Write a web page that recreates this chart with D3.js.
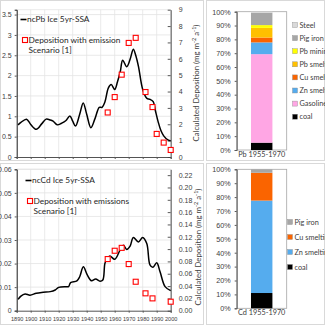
<!DOCTYPE html>
<html>
<head>
<meta charset="utf-8">
<script src="https://cdn.jsdelivr.net/npm/d3@7"></script>
<style>
  body { margin: 0; background: #fff; }
  svg { display: block; font-family: Lato, "Open Sans", sans-serif; }
</style>
</head>
<body>
<div id="chart"></div>
<script>
// ice core series (5yr smoothed) - left axis
const pbIceYears = [1891, 1893, 1897, 1900, 1904, 1908, 1911, 1914, 1916, 1919, 1922, 1925, 1928, 1930, 1932, 1935, 1937.5, 1940, 1943, 1946, 1949, 1951, 1953, 1955.5, 1957.5, 1960, 1962, 1964, 1965.7, 1968.6, 1971, 1973.3, 1975, 1977, 1980, 1983, 1985, 1987.5, 1989, 1991, 1993, 1995, 1998, 2000];
const pbIce = [0.79, 0.85, 0.93, 0.8, 0.68, 0.82, 0.93, 0.91, 0.88, 0.79, 0.83, 0.89, 1.01, 0.88, 0.76, 1.05, 1.33, 1.05, 0.72, 0.95, 1.22, 1.22, 1.35, 1.7, 1.78, 1.66, 1.85, 2.1, 2.38, 2.22, 2.4, 2.65, 2.5, 2.22, 1.66, 1.44, 1.42, 1.36, 1.15, 0.87, 0.65, 0.52, 0.42, 0.4];

const cdIceYears = [1891, 1893, 1896, 1899.5, 1904, 1909, 1914, 1917.5, 1920, 1925, 1927, 1928.5, 1933, 1935, 1937.6, 1940.5, 1943.4, 1946.4, 1949.5, 1951.5, 1953, 1954.6, 1956.6, 1960, 1963.8, 1966.2, 1968.6, 1971, 1973.3, 1976.9, 1980, 1982.9, 1985.2, 1987.2, 1990, 1992.4, 1996, 2000];
const cdIce = [0.0048, 0.0062, 0.0071, 0.0066, 0.0074, 0.0078, 0.0081, 0.0088, 0.0099, 0.0102, 0.0102, 0.0119, 0.0127, 0.0144, 0.0186, 0.0151, 0.0127, 0.0134, 0.0125, 0.013, 0.02, 0.0222, 0.0232, 0.0218, 0.0257, 0.0278, 0.026, 0.0274, 0.0311, 0.0292, 0.0311, 0.0285, 0.0194, 0.0184, 0.0203, 0.0165, 0.0102, 0.0085];

// emission scenario deposition - right axis
const pbScenYears = [1955, 1960, 1965, 1970, 1975, 1982, 1987, 1990, 1995, 2000];
const pbScen = [2.72, 3.66, 5.03, 6.97, 7.28, 3.97, 3.05, 1.41, 0.88, 0.43];
const cdScenYears = [1955, 1960, 1965, 1970, 1975, 1982, 1987, 2000];
const cdScen = [0.0838, 0.0973, 0.102, 0.0757, 0.047, 0.0282, 0.02, 0.0146];

const xTicks = [1890, 1900, 1910, 1920, 1930, 1940, 1950, 1960, 1970, 1980, 1990, 2000];
const pbLeftTicks = [0, 0.5, 1, 1.5, 2, 2.5, 3, 3.5];
const pbRightTicks = [0, 1, 2, 3, 4, 5, 6, 7, 8, 9];
const cdLeftTicks = [0, 0.01, 0.02, 0.03, 0.04, 0.05, 0.06];
const cdRightTicks = [0, 0.02, 0.04, 0.06, 0.08, 0.10, 0.12, 0.14, 0.16, 0.18, 0.20, 0.22];

// source shares 1955-1970 (%)
const pbSources = ["coal", "Gasoline", "Zn smelting", "Cu smelting", "Pb smelting", "Pb mining", "Pig iron", "Steel"];
const pbShares = [5.3, 64, 8.5, 3.5, 7, 2, 9, 0.7];
const cdSources = ["coal", "Zn smelting", "Cu smelting", "Pig iron"];
const cdShares = [11, 66.5, 20, 2.5];
const pctTicks = [0, 10, 20, 30, 40, 50, 60, 70, 80, 90, 100];

const srcColor = {
  "coal": "#000000", "Gasoline": "#ffa6e4", "Zn smelting": "#55acee",
  "Cu smelting": "#fa6400", "Pb smelting": "#ffc000", "Pb mining": "#ffff00",
  "Pig iron": "#a6a6a6", "Steel": "#d9d9d9"
};

const svg = d3.select("#chart").append("svg")
  .attr("width", 325).attr("height", 325);

// chart area frames
const frames = [[0.5, 0.5, 203, 160], [0.5, 163.5, 203, 161], [206.5, 0.5, 118, 160], [206.5, 163.5, 118, 161]];
svg.selectAll("rect.frame").data(frames).enter().append("rect")
  .attr("class", "frame")
  .attr("x", d => d[0]).attr("y", d => d[1]).attr("width", d => d[2]).attr("height", d => d[3])
  .attr("fill", "none").attr("stroke", "#d9d9d9");

function lineChart(cfg) {
  const x = d3.scaleLinear().domain([1890, 2000]).range([16.7, 170.7]);
  const yL = d3.scaleLinear().domain([0, cfg.leftMax]).range([cfg.bottom, cfg.top]);
  const yR = d3.scaleLinear().domain([0, cfg.rightMax]).range([cfg.bottom, cfg.top]);
  const g = svg.append("g");

  // gridlines
  g.selectAll(".vg").data(xTicks.slice(1)).enter().append("line")
    .attr("x1", d => x(d)).attr("x2", d => x(d))
    .attr("y1", cfg.top).attr("y2", cfg.bottom)
    .attr("stroke", "#e3e3e3").attr("stroke-width", 0.8);
  g.selectAll(".hg").data(cfg.leftTicks.slice(1)).enter().append("line")
    .attr("x1", x(1890)).attr("x2", x(2000))
    .attr("y1", d => yL(d)).attr("y2", d => yL(d))
    .attr("stroke", "#e3e3e3").attr("stroke-width", 0.8);
  g.append("line").attr("x1", x(1890)).attr("x2", x(2000))
    .attr("y1", cfg.top).attr("y2", cfg.top)
    .attr("stroke", "#e3e3e3").attr("stroke-width", 0.8);

  // left axis
  const la = g.append("g").attr("transform", `translate(${x(1890)},0)`)
    .call(d3.axisLeft(yL).tickValues(cfg.leftTicks).tickSize(2).tickFormat(cfg.leftFmt));
  // right axis
  const ra = g.append("g").attr("transform", `translate(${x(2000)},0)`)
    .call(d3.axisRight(yR).tickValues(cfg.rightTicks).tickSizeInner(-3).tickSizeOuter(0).tickPadding(8).tickFormat(cfg.rightFmt));
  // bottom axis
  const ba = g.append("g").attr("transform", `translate(0,${cfg.bottom})`)
    .call(d3.axisBottom(x).tickValues(xTicks).tickSize(2).tickFormat(cfg.showX ? d3.format("d") : ""));
  [la, ra, ba].forEach(a => {
    a.select(".domain").attr("stroke", "#404040").attr("stroke-width", 0.9);
    a.selectAll(".tick line").attr("stroke", "#595959");
    a.selectAll("text").attr("fill", "#404040").attr("font-size", 7);
  });
  la.select(".domain").attr("stroke", "#000");
  ba.selectAll("text").attr("font-size", 5.6).attr("dy", "0.9em");

  // ice core line
  const pts = cfg.iceYears.map((yr, i) => [yr, cfg.ice[i]]);
  g.append("path").datum(pts)
    .attr("fill", "none").attr("stroke", "#000").attr("stroke-width", 1.5)
    .attr("d", d3.line().x(d => x(d[0])).y(d => yL(d[1])).curve(d3.curveCatmullRom.alpha(0.5)));

  // scenario squares
  const sq = cfg.scenYears.map((yr, i) => [yr, cfg.scen[i]]);
  g.selectAll(".sq").data(sq).enter().append("rect")
    .attr("x", d => x(d[0]) - 2.5).attr("y", d => yR(d[1]) - 2.5)
    .attr("width", 5).attr("height", 5)
    .attr("fill", "#fff").attr("stroke", "#ff0000").attr("stroke-width", 1.1);

  // right axis title
  const t = g.append("text")
    .attr("transform", `translate(${cfg.titleX},${cfg.titleY}) rotate(-90)`)
    .attr("text-anchor", "middle").attr("font-size", 7.8).attr("fill", "#404040");
  t.append("tspan").text("Calculated Deposition (mg m");
  t.append("tspan").attr("dy", -3).attr("font-size", 5.5).text("-2");
  t.append("tspan").attr("dy", 3).text(" a");
  t.append("tspan").attr("dy", -3).attr("font-size", 5.5).text("-1");
  t.append("tspan").attr("dy", 3).text(")");

  // legend
  const lg = g.append("g").attr("font-size", 8.3).attr("fill", "#262626");
  lg.append("line").attr("x1", cfg.legX).attr("x2", cfg.legX + 6)
    .attr("y1", cfg.legY).attr("y2", cfg.legY).attr("stroke", "#000").attr("stroke-width", 1.6);
  lg.append("text").attr("x", cfg.legX + 6.5).attr("y", cfg.legY).attr("dy", "0.35em").text(cfg.iceLabel);
  lg.append("rect").attr("x", cfg.legX + 2).attr("y", cfg.legY + 18).attr("width", 5).attr("height", 5)
    .attr("fill", "#fff").attr("stroke", "#ff0000").attr("stroke-width", 1.1);
  lg.append("text").attr("x", cfg.legX + 8).attr("y", cfg.legY + 20.5).attr("dy", "0.35em").text(cfg.scenLabel);
  lg.append("text").attr("x", cfg.legX + 8).attr("y", cfg.legY + 31).attr("dy", "0.35em").text("Scenario [1]");
}

lineChart({
  top: 9.7, bottom: 157, leftMax: 3.62, rightMax: 9,
  leftTicks: pbLeftTicks, rightTicks: pbRightTicks,
  leftFmt: d3.format(""), rightFmt: d3.format("d"),
  iceYears: pbIceYears, ice: pbIce, scenYears: pbScenYears, scen: pbScen,
  showX: false, titleX: 199, titleY: 83,
  legX: 20.5, legY: 19.5, iceLabel: "ncPb Ice 5yr-SSA", scenLabel: "Deposition with emission"
});

lineChart({
  top: 169.3, bottom: 310.7, leftMax: 0.06, rightMax: 0.2295,
  leftTicks: cdLeftTicks, rightTicks: cdRightTicks,
  leftFmt: d => d === 0 ? "0" : d3.format(".2f")(d), rightFmt: d3.format(".2f"),
  iceYears: cdIceYears, ice: cdIce, scenYears: cdScenYears, scen: cdScen,
  showX: true, titleX: 201, titleY: 247,
  legX: 25.5, legY: 180.5, iceLabel: "ncCd Ice 5yr-SSA", scenLabel: "Deposition with emissions"
});

function barChart(cfg) {
  const y = d3.scaleLinear().domain([0, 100]).range([cfg.bottom, cfg.top]);
  const x = d3.scaleBand().domain([cfg.label]).range([236.7, 286.7]).padding(0.4);
  const g = svg.append("g");

  g.append("rect").attr("x", 236.7).attr("y", cfg.top).attr("width", 50).attr("height", cfg.bottom - cfg.top)
    .attr("fill", "none").attr("stroke", "#a6a6a6").attr("stroke-width", 0.8);

  const row = {};
  cfg.sources.forEach((s, i) => row[s] = cfg.shares[i]);
  const series = d3.stack().keys(cfg.sources)([row]);
  g.selectAll(".seg").data(series).enter().append("rect")
    .attr("x", x(cfg.label)).attr("width", x.bandwidth())
    .attr("y", d => y(d[0][1])).attr("height", d => y(d[0][0]) - y(d[0][1]))
    .attr("fill", d => srcColor[d.key]);

  const la = g.append("g").attr("transform", "translate(236.7,0)")
    .call(d3.axisLeft(y).tickValues(pctTicks).tickSize(2).tickPadding(4).tickFormat(d => d + "%"));
  la.select(".domain").attr("stroke", "#595959");
  la.selectAll(".tick line").attr("stroke", "#595959");
  la.selectAll("text").attr("fill", "#404040").attr("font-size", 7.2);

  g.append("text").attr("x", x(cfg.label) + x.bandwidth() / 2).attr("y", cfg.bottom + 7)
    .attr("text-anchor", "middle").attr("font-size", 7.3).attr("fill", "#404040").text(cfg.label);

  const legend = cfg.sources.slice().reverse();
  const lg = g.selectAll(".lg").data(legend).enter().append("g")
    .attr("transform", (d, i) => `translate(${cfg.legX},${cfg.legY + i * cfg.legStep})`);
  lg.append("rect").attr("x", 0).attr("y", -2.5).attr("width", 5).attr("height", 5)
    .attr("fill", d => srcColor[d]).attr("stroke", "#8c8c8c").attr("stroke-width", 0.4);
  lg.append("text").attr("x", 7).attr("dy", "0.35em").attr("font-size", 7.3).attr("fill", "#404040").text(d => d);
}

barChart({ top: 11.7, bottom: 150, label: "Pb 1955-1970", sources: pbSources, shares: pbShares,
  legX: 292.5, legY: 25, legStep: 13.1 });
barChart({ top: 169.3, bottom: 308.3, label: "Cd 1955-1970", sources: cdSources, shares: cdShares,
  legX: 287.5, legY: 222, legStep: 15 });
</script>
</body>
</html>
